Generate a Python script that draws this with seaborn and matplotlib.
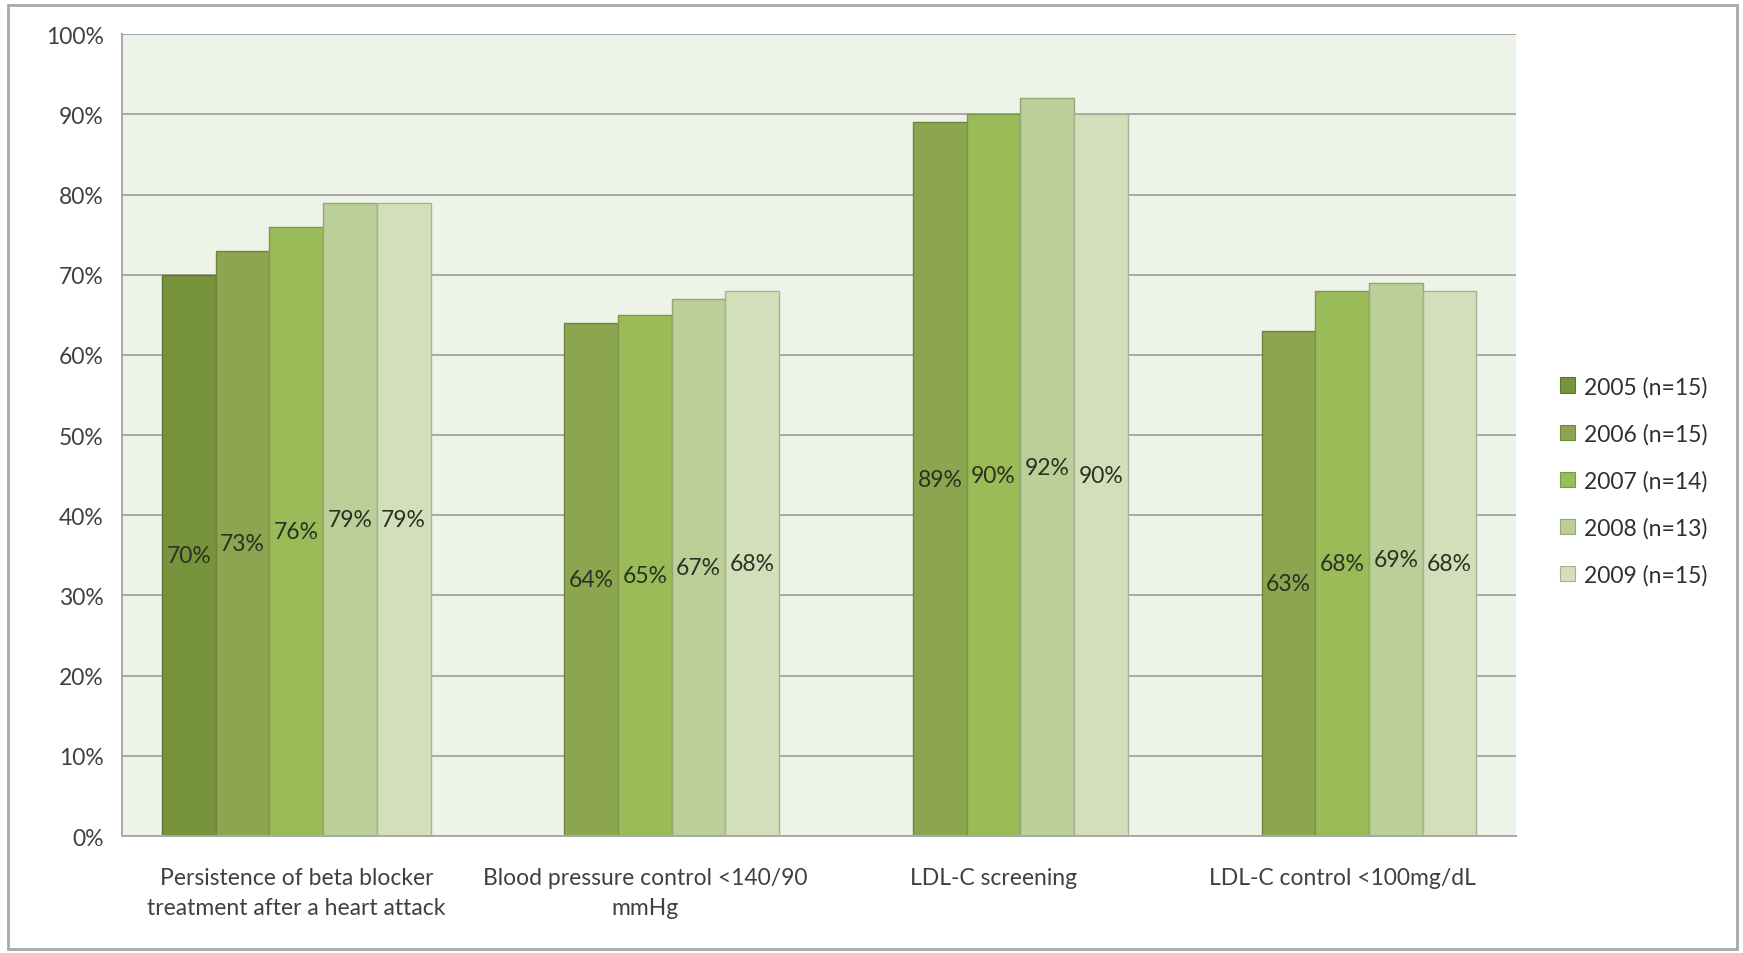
import numpy as np
import pandas as pd
import matplotlib
matplotlib.use("Agg")
import matplotlib.pyplot as plt
import matplotlib.patches as mpatches
from matplotlib.colors import to_rgb
import seaborn as sns

# Quality measures (x categories)
measures = [
    "Persistence of beta blocker\ntreatment after a heart attack",
    "Blood pressure control <140/90\nmmHg",
    "LDL-C screening",
    "LDL-C control <100mg/dL",
]
years = ["2005 (n=15)", "2006 (n=15)", "2007 (n=14)", "2008 (n=13)", "2009 (n=15)"]

# Percent of plans meeting each measure, per year (NaN = not reported)
y2005 = [70, np.nan, np.nan, np.nan]
y2006 = [73, 64, 89, 63]
y2007 = [76, 65, 90, 68]
y2008 = [79, 67, 92, 69]
y2009 = [79, 68, 90, 68]

y_ticks = list(range(0, 101, 10))

colors = ["#77933C", "#8BA64F", "#9BBB59", "#BBCF99", "#D3DFBB"]

series = [y2005, y2006, y2007, y2008, y2009]
rows = []
for yr, vals in zip(years, series):
    for m, v in zip(measures, vals):
        rows.append({"measure": m, "year": yr, "value": v})
df = pd.DataFrame(rows)

sns.set_style("white")
plt.rcParams["font.family"] = ["Lato", "DejaVu Sans"]
FS = 16.5

fig = plt.figure(figsize=(17.43, 9.54), dpi=100)
ax = fig.add_axes([0.070, 0.1226, 0.800, 0.8405])
ax.set_facecolor("#EEF3E8")

sns.barplot(data=df, x="measure", y="value", hue="year", order=measures,
            hue_order=years, palette=colors, width=0.77, dodge=True,
            errorbar=None, ax=ax, legend=False, saturation=1)

# darker outline for each bar and centered value labels
for cont in ax.containers:
    for patch in cont.patches:
        fc = np.array(to_rgb(patch.get_facecolor()))
        patch.set_edgecolor(tuple(fc * 0.8))
        patch.set_linewidth(1.0)
    labels = []
    for patch in cont.patches:
        h = patch.get_height()
        labels.append("" if (h is None or np.isnan(h) or h == 0) else f"{h:.0f}%")
    ax.bar_label(cont, labels=labels, label_type="center", fontsize=FS,
                 color="#2A3122")

ax.set_ylim(0, 100)
ax.set_xlim(-0.5, len(measures) - 0.5)
ax.set_yticks(y_ticks)
ax.set_yticklabels([f"{t}%" for t in y_ticks], fontsize=FS, color="#404040")
ax.yaxis.grid(True, color="#A8A8A8", linewidth=1.4)
ax.set_axisbelow(True)
ax.tick_params(axis="y", length=7, width=1.2, color="#A8A8A8", direction="out", pad=6)

ax.set_xticks(range(len(measures)))
ax.set_xticklabels(measures, fontsize=FS, color="#404040", linespacing=1.55)
ax.tick_params(axis="x", length=0, pad=22)
ax.set_xticks(np.arange(-0.5, len(measures), 1.0), minor=True)
ax.tick_params(axis="x", which="minor", length=9, width=1.2, color="#A8A8A8",
               direction="out")
ax.set_xlabel("")
ax.set_ylabel("")

for side in ["top", "right"]:
    ax.spines[side].set_visible(False)
for side in ["left", "bottom"]:
    ax.spines[side].set_color("#A8A8A8")
    ax.spines[side].set_linewidth(1.4)

handles = [mpatches.Patch(facecolor=c, edgecolor=tuple(np.array(to_rgb(c)) * 0.8),
                          linewidth=0.8) for c in colors]
fig.legend(handles, years, loc="center left", bbox_to_anchor=(0.883, 0.495),
           frameon=False, fontsize=FS, labelspacing=1.12, handlelength=0.65,
           handleheight=0.65, handletextpad=0.4, labelcolor="#303030")

# outer frame around the whole chart
frame = mpatches.Rectangle((8 / 1743, 4 / 954), 1729 / 1743, 944 / 954,
                           transform=fig.transFigure, fill=False,
                           edgecolor="#A8A8A8", linewidth=2.0)
fig.patches.append(frame)

fig.savefig("out.png", dpi=100)
